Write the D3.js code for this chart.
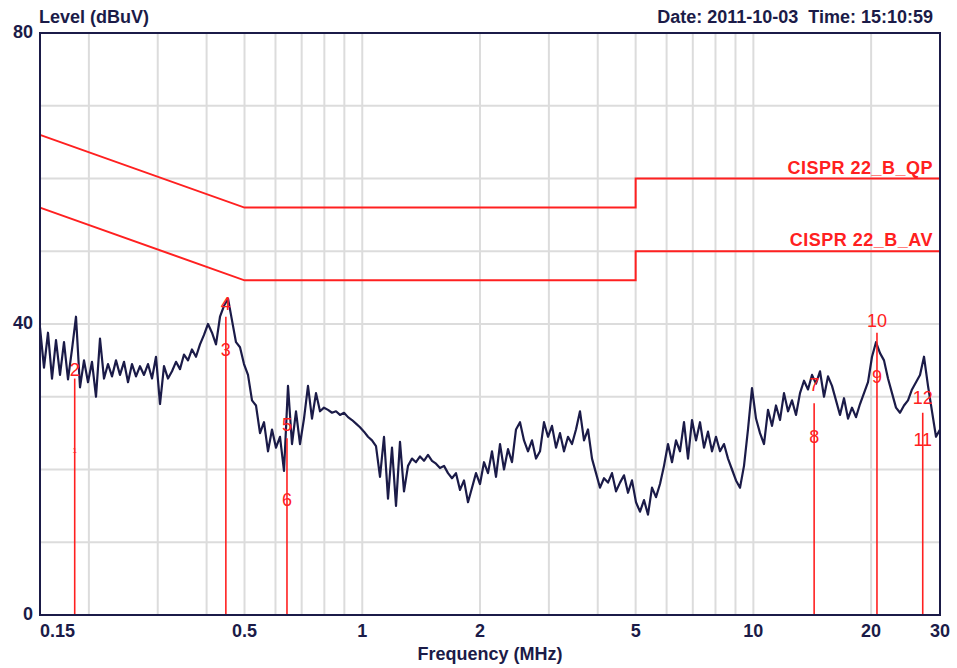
<!DOCTYPE html>
<html lang="en">

<head>
    <meta charset="UTF-8">
    <meta name="viewport" content="width=device-width, initial-scale=1.0">
    <script src="https://d3js.org/d3.v7.min.js"></script>
    <style>
        body { margin: 0; background: #fff; }
        text { font-family: "Liberation Sans", Arial, sans-serif; }
    </style>
</head>

<body>

    <script>

        // sweep 0.15 - 30 MHz, levels in dBuV
        const sweepStart = 0.15;
        const sweepStop = 30;
        const traceLevels = [
            39.5, 34, 38.8, 32.5, 37.8, 33, 37.5, 32.4, 36.5, 41,
            31.3, 35, 32, 34.8, 30, 38, 32.5, 34.5, 32.8, 35,
            33, 34.8, 32, 34.5, 32.8, 34.2, 33, 34.5, 32.5, 35.5,
            29, 34.2, 32.5, 33.5, 34.8, 33.8, 35.8, 35, 36.5, 35.5,
            37.2, 38.5, 40, 38.8, 37.2, 41, 42.5, 43.5, 40.5, 37.5,
            36.8, 34.5, 33, 29.5, 28.8, 25, 26.5, 22.5, 25.5, 23,
            24.5, 19.8, 31.5, 23.5, 28, 23.5, 27, 31.5, 27, 30.5,
            28, 28.5, 28.2, 27.8, 28, 27.5, 27.8, 27.2, 26.8, 26.3,
            25.8, 25.2, 24.5, 24, 23.2, 19, 24.5, 16, 23, 15,
            23.8, 17, 20.5, 21.5, 21, 21.8, 21.2, 22, 21.2, 20.8,
            20.2, 20.5, 19.5, 18.8, 19.5, 17.2, 18.5, 15.5, 17.5, 19.5,
            18, 21, 19.5, 22.5, 19, 23.5, 20, 22.8, 21, 25.5,
            26.5, 24, 22.5, 24, 21.5, 22.5, 26.5, 24.5, 26, 23,
            25, 22.5, 24.5, 23.5, 25.5, 28, 24, 25.5, 21.5, 19.5,
            17.5, 18.8, 18.2, 19.5, 17, 18.2, 19.2, 16.8, 18.5, 15.5,
            14.2, 15.8, 13.8, 17.5, 16.2, 18, 20.5, 23.5, 21, 24,
            22.5, 26.5, 21.5, 26.8, 24, 26.5, 23, 25.2, 22.5, 24.5,
            22.5, 23.5, 21.5, 20, 18.5, 17.5, 20.5, 25.5, 31.2, 27,
            25, 23.5, 28.2, 26, 28.8, 26.8, 30.5, 28, 29.5, 27.5,
            30.5, 32.2, 31, 33, 31.8, 33.5, 30, 32.8, 31.5, 29.5,
            27.5, 29.8, 27, 28.5, 27.2, 29, 30.5, 32, 35.5, 37.5,
            36, 35, 32.5, 30.5, 28.5, 27.8, 28.8, 29.5, 31, 32,
            33, 35.5, 31.5, 28, 24.5, 25.5
        ];

        // limit lines (MHz, dBuV)
        const limitQP = [[0.15, 66], [0.5, 56], [5, 56], [5, 60], [30, 60]];
        const limitAV = [[0.15, 56], [0.5, 46], [5, 46], [5, 50], [30, 50]];
        const limitNames = ["CISPR 22_B_QP", "CISPR 22_B_AV"];

        // markers
        const markerFreqs = [0.184, 0.448, 0.642, 14.3, 20.7, 27.1];
        const markerTops = [32.5, 41, 24.3, 29.1, 38.8, 27.8];
        const markerLabels = ["1", "2", "3", "4", "5", "6", "7", "8", "9", "10", "11", "12"];
        const markerLabelLevels = [22.3, 32.9, 35.6, 41.9, 25.3, 15, 30.8, 23.6, 31.9, 39.6, 23.2, 29];

        // axes
        const xTickLabels = [0.15, 0.5, 1, 2, 5, 10, 20, 30];
        const xGridValues = [0.2, 0.3, 0.4, 0.5, 0.6, 0.7, 0.8, 0.9, 1, 2, 3, 4, 5, 6, 7, 8, 9, 10, 20];
        const yTickLabels = [0, 40, 80];
        const yGridValues = [10, 20, 30, 40, 50, 60, 70];

        const navy = "#1b1b48";
        const red = "#ff2020";

        const margin = { top: 33, right: 17, bottom: 53, left: 40 };
        const width = 957 - margin.left - margin.right;
        const height = 668 - margin.top - margin.bottom;

        const svg = d3.select("body").append("svg")
            .attr("width", width + margin.left + margin.right)
            .attr("height", height + margin.top + margin.bottom)
            .append("g")
            .attr("transform", `translate(${margin.left},${margin.top})`);

        const xScale = d3.scaleLog().domain([sweepStart, sweepStop]).range([0, width]);
        const yScale = d3.scaleLinear().domain([0, 80]).range([height, 0]);

        // grid
        svg.selectAll(".vgrid")
            .data(xGridValues)
            .enter().append("line")
            .attr("x1", d => xScale(d)).attr("x2", d => xScale(d))
            .attr("y1", 0).attr("y2", height)
            .style("stroke", "#dcdcdc")
            .style("stroke-width", 2);

        svg.selectAll(".hgrid")
            .data(yGridValues)
            .enter().append("line")
            .attr("x1", 0).attr("x2", width)
            .attr("y1", d => yScale(d)).attr("y2", d => yScale(d))
            .style("stroke", "#dcdcdc")
            .style("stroke-width", 2);

        // limit lines
        const limitLine = d3.line()
            .x(d => xScale(d[0]))
            .y(d => yScale(d[1]));

        [limitQP, limitAV].forEach((lim, i) => {
            svg.append("path")
                .attr("d", limitLine(lim))
                .style("fill", "none")
                .style("stroke", red)
                .style("stroke-width", 2);

            const last = lim[lim.length - 1];
            svg.append("text")
                .attr("x", xScale(last[0]) - 7)
                .attr("y", yScale(last[1]) - 5)
                .style("text-anchor", "end")
                .style("font-size", "18px")
                .style("font-weight", "bold")
                .style("letter-spacing", "0.5px")
                .style("fill", red)
                .text(limitNames[i]);
        });

        // measured trace
        const n = traceLevels.length;
        const trace = traceLevels.map((v, i) => [sweepStart * Math.pow(sweepStop / sweepStart, i / (n - 1)), v]);

        svg.append("path")
            .attr("d", limitLine(trace))
            .style("fill", "none")
            .style("stroke", navy)
            .style("stroke-width", 2.2)
            .style("stroke-linejoin", "round");

        // marker lines + numbers
        svg.selectAll(".marker")
            .data(markerFreqs)
            .enter().append("line")
            .attr("x1", d => xScale(d)).attr("x2", d => xScale(d))
            .attr("y1", height)
            .attr("y2", (d, i) => yScale(markerTops[i]))
            .style("stroke", red)
            .style("stroke-width", 1.6);

        svg.selectAll(".marker-label")
            .data(markerLabels)
            .enter().append("text")
            .attr("x", (d, i) => xScale(markerFreqs[Math.floor(i / 2)]))
            .attr("y", (d, i) => yScale(markerLabelLevels[i]))
            .style("text-anchor", "middle")
            .style("font-size", d => d == "1" ? "8px" : "18px")
            .style("fill", red)
            .text(d => d);

        // frame
        svg.append("rect")
            .attr("width", width)
            .attr("height", height)
            .style("fill", "none")
            .style("stroke", navy)
            .style("stroke-width", 2);

        // tick labels
        svg.selectAll(".xlabel")
            .data(xTickLabels)
            .enter().append("text")
            .attr("x", d => xScale(d))
            .attr("y", height + 22)
            .style("text-anchor", (d, i) => i == 0 ? "start" : "middle")
            .style("font-size", "18px")
            .style("font-weight", "bold")
            .style("fill", navy)
            .text(d => d);

        svg.selectAll(".ylabel")
            .data(yTickLabels)
            .enter().append("text")
            .attr("x", -7)
            .attr("y", d => yScale(d) + 5)
            .style("text-anchor", "end")
            .style("font-size", "18px")
            .style("font-weight", "bold")
            .style("fill", navy)
            .text(d => d);

        // titles
        svg.append("text")
            .attr("x", -1)
            .attr("y", -10)
            .style("font-size", "18px")
            .style("font-weight", "bold")
            .style("fill", navy)
            .text("Level (dBuV)");

        svg.append("text")
            .attr("x", width - 7)
            .attr("y", -10)
            .style("text-anchor", "end")
            .style("font-size", "18px")
            .style("font-weight", "bold")
            .style("fill", navy)
            .style("white-space", "pre")
            .text("Date: 2011-10-03  Time: 15:10:59");

        svg.append("text")
            .attr("x", 450)
            .attr("y", height + 45)
            .style("text-anchor", "middle")
            .style("font-size", "18px")
            .style("font-weight", "bold")
            .style("fill", navy)
            .text("Frequency (MHz)");

    </script>
</body>

</html>
